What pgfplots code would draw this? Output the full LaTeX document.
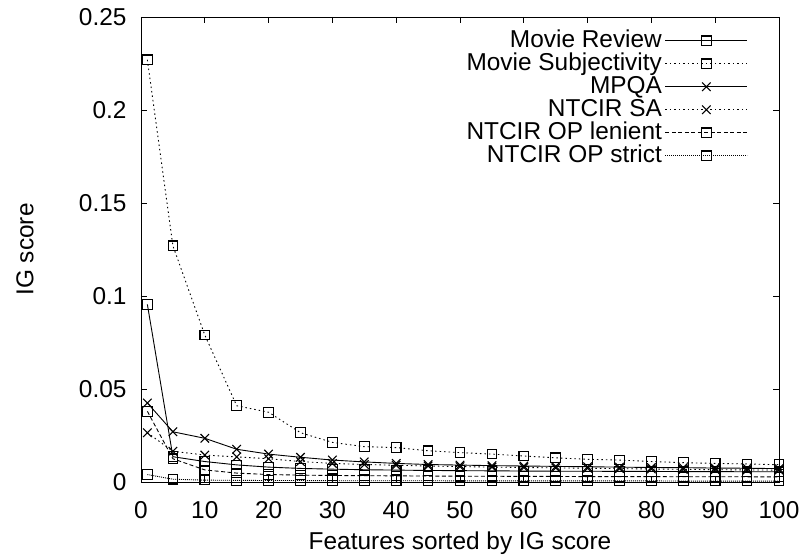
\documentclass[border=0pt]{standalone}
\usepackage{pgfplots}
\usepackage{pgfplotstable}
\pgfplotsset{compat=1.18}
\usepackage{fontspec}
\setmainfont{Liberation Sans}

% IG score of the top-ranked features for each corpus
\pgfplotstableread{
x    mr      ms      mpqa    sa      len     str
1    0.0955  0.2270  0.0425  0.0265  0.0380  0.0040
5    0.0136  0.1270  0.0270  0.0165  0.0125  0.0015
10   0.0110  0.0790  0.0235  0.0145  0.0065  0.0010
15   0.0092  0.0410  0.0176  0.0135  0.0048  0.0009
20   0.0080  0.0375  0.0150  0.0125  0.0040  0.0008
25   0.0073  0.0265  0.0133  0.0110  0.0037  0.0008
30   0.0069  0.0213  0.0118  0.0100  0.0035  0.0007
35   0.0066  0.0190  0.0108  0.0094  0.0034  0.0007
40   0.0064  0.0185  0.0100  0.0090  0.0033  0.0007
45   0.0062  0.0168  0.0094  0.0086  0.0032  0.0007
50   0.0061  0.0158  0.0091  0.0083  0.0031  0.0006
55   0.0060  0.0150  0.0088  0.0080  0.0031  0.0006
60   0.0059  0.0140  0.0086  0.0078  0.0030  0.0006
65   0.0058  0.0130  0.0084  0.0076  0.0030  0.0006
70   0.0058  0.0122  0.0082  0.0074  0.0029  0.0006
75   0.0057  0.0118  0.0080  0.0072  0.0029  0.0006
80   0.0057  0.0110  0.0078  0.0070  0.0029  0.0006
85   0.0056  0.0104  0.0077  0.0068  0.0028  0.0005
90   0.0056  0.0100  0.0075  0.0066  0.0028  0.0005
95   0.0055  0.0097  0.0074  0.0065  0.0028  0.0005
100  0.0055  0.0093  0.0072  0.0064  0.0027  0.0005
}\igdata

\begin{document}
\begin{tikzpicture}[x=1bp,y=1bp]
\begin{axis}[
  at={(0,0)}, anchor=south west,
  scale only axis, width=638bp, height=465bp,
  xmin=0, xmax=100, ymin=0, ymax=0.25,
  xtick={0,10,...,100},
  ytick={0,0.05,0.1,0.15,0.2,0.25},
  tick align=inside, major tick length=6bp,
  tick style={black, line width=0.8pt},
  axis line style={line width=0.9pt},
  font=\fontsize{24.5}{28}\selectfont,
  /pgf/number format/assume math mode=true,
  /pgf/number format/fixed,
  /pgf/number format/precision=2,
  xticklabel style={yshift=-16bp},
  yticklabel style={xshift=-11bp},
  scaled y ticks=false,
  xlabel={Features sorted by IG score},
  ylabel={IG score},
  every axis x label/.style={at={(axis description cs:0.5,0)},
    anchor=center, yshift=-61bp},
  every axis y label/.style={at={(axis description cs:0,0.5)},
    xshift=-116bp, rotate=90, anchor=center},
  legend cell align=right,
  legend plot pos=right,
  legend style={draw=none, fill=none, at={(0.9514,0.974)}, anchor=north east,
    row sep=0pt, column sep=2bp, inner sep=0pt,
    nodes={inner sep=1bp, text height=17bp, text depth=4bp,
      font=\fontsize{24.5}{28}\selectfont}},
  legend image code/.code={
    \draw[mark repeat=2, mark phase=2, #1]
      plot coordinates {(0bp,0bp) (41bp,0bp) (82bp,0bp)};
  },
  every axis plot/.append style={line width=0.9pt, mark options={solid, line width=1.1pt}},
  square mk/.style={mark=square, mark size=4.8bp},
  cross mk/.style={mark=x, mark size=6bp},
]
\addplot[black, solid, square mk] table[x=x, y=mr] {\igdata};
\addlegendentry{Movie Review}
\addplot[black, dash pattern=on 1.5bp off 3bp, square mk] table[x=x, y=ms] {\igdata};
\addlegendentry{Movie Subjectivity}
\addplot[black, solid, cross mk] table[x=x, y=mpqa] {\igdata};
\addlegendentry{MPQA}
\addplot[black, dash pattern=on 1.5bp off 3bp, cross mk] table[x=x, y=sa] {\igdata};
\addlegendentry{NTCIR SA}
\addplot[black, dash pattern=on 4bp off 2.5bp, square mk] table[x=x, y=len] {\igdata};
\addlegendentry{NTCIR OP lenient}
\addplot[black, dash pattern=on 1bp off 1bp, square mk] table[x=x, y=str] {\igdata};
\addlegendentry{NTCIR OP strict}
\end{axis}
\path (-141bp,-75bp) rectangle (662bp,482bp);
\end{tikzpicture}
\end{document}
